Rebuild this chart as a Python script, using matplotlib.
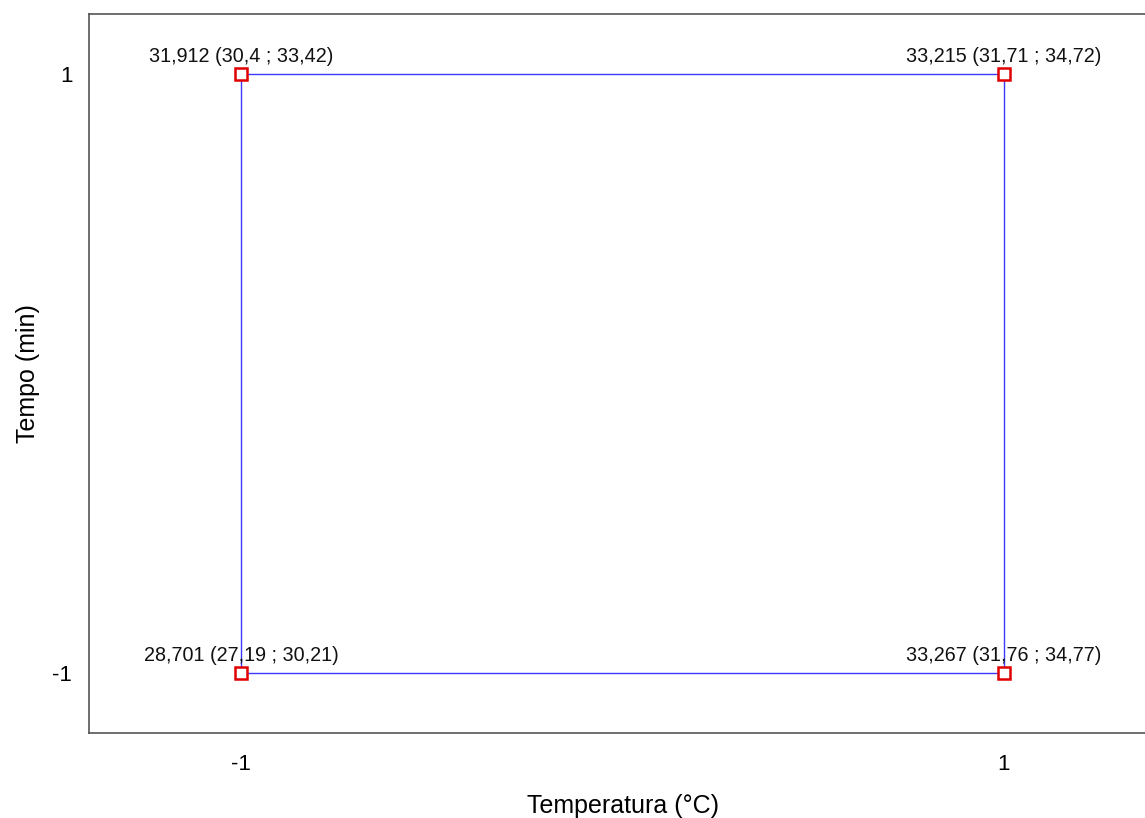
import matplotlib
matplotlib.use("Agg")
import matplotlib.pyplot as plt

# factorial design corners (coded levels) and responses with CI
temp = [-1, -1, 1, 1]
tempo = [-1, 1, 1, -1]
labels = [
    "28,701 (27,19 ; 30,21)",
    "31,912 (30,4 ; 33,42)",
    "33,215 (31,71 ; 34,72)",
    "33,267 (31,76 ; 34,77)",
]
ticks = [-1, 1]

plt.rcParams["font.family"] = ["Liberation Sans", "DejaVu Sans"]

fig = plt.figure(figsize=(11.45, 8.18), dpi=100)
ax = fig.add_axes([0.0777, 0.1039, 0.932, 0.879])

ax.plot(temp + temp[:1], tempo + tempo[:1], color="#3b3bff", linewidth=1.0, zorder=2)
ax.plot(temp, tempo, linestyle="none", marker="s", markersize=8,
        markerfacecolor="white", markeredgecolor="#e00000", markeredgewidth=1.8, zorder=3)

for x, y, txt in zip(temp, tempo, labels):
    ax.annotate(txt, (x, y), xytext=(0, 6), textcoords="offset points",
                ha="center", va="bottom", fontsize=14.2, color="#111111")

ax.set_xlim(-1.4, 1.4)
ax.set_ylim(-1.2, 1.2)
ax.set_xticks(ticks)
ax.set_yticks(ticks)
ax.set_xticklabels(["-1", "1"])
ax.set_yticklabels(["-1", "1"])
ax.tick_params(length=0, labelsize=16, pad=12)
ax.tick_params(axis="x", pad=15)
for s in ax.spines.values():
    s.set_color("#555555")
    s.set_linewidth(1.2)

ax.set_xlabel("Temperatura (°C)", fontsize=18, labelpad=14)
ax.set_ylabel("Tempo (min)", fontsize=18, labelpad=9)

fig.savefig("out.png", dpi=100)
